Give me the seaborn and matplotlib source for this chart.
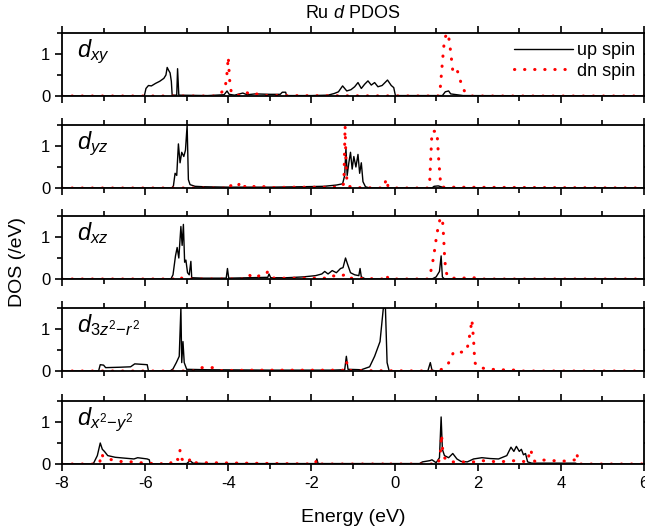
import matplotlib
matplotlib.use("Agg")
import matplotlib.pyplot as plt
import pandas as pd
import seaborn as sns
from matplotlib.ticker import MultipleLocator

# Ru d-orbital projected DOS, (energy eV, DOS /eV)
dxy_up = [(-8.0, 0), (-6.02, 0), (-5.98, 0.18), (-5.92, 0.25), (-5.85, 0.24), (-5.75, 0.3), (-5.65, 0.35),
          (-5.55, 0.42), (-5.5, 0.5), (-5.47, 0.68), (-5.44, 0.62), (-5.4, 0.55), (-5.37, 0.35), (-5.35, 0.02),
          (-5.24, 0.02), (-5.22, 0.65), (-5.19, 0.02), (-4.5, 0.01), (-4.1, 0.03), (-4.03, 0.12), (-3.98, 0.04),
          (-3.85, 0.02), (-3.65, 0.07), (-3.55, 0.03), (-3.35, 0.05), (-3.0, 0.04), (-2.75, 0.04), (-2.7, 0.09),
          (-2.62, 0.09), (-2.6, 0.01), (-2.0, 0.01), (-1.6, 0.02), (-1.45, 0.06), (-1.35, 0.1), (-1.25, 0.24),
          (-1.15, 0.12), (-1.05, 0.15), (-0.96, 0.22), (-0.88, 0.32), (-0.8, 0.18), (-0.72, 0.28), (-0.64, 0.36),
          (-0.56, 0.26), (-0.48, 0.32), (-0.4, 0.22), (-0.3, 0.25), (-0.17, 0.38), (-0.08, 0.25), (-0.02, 0.2),
          (0.02, 0.01), (1.15, 0.01), (1.22, 0.1), (1.3, 0.12), (1.35, 0.05), (1.5, 0.03), (1.65, 0.01), (6.0, 0)]
dxy_dn = [(-8, 0), (-4.25, 0), (-4.15, 0.1), (-4.08, 0.15), (-4.03, 0.55), (-4.0, 0.93), (-3.97, 0.4),
          (-3.93, 0.1), (-3.85, 0.02), (-3.6, 0.02), (-3.55, 0.08), (-3.45, 0.02), (-3.3, 0.05), (-3.1, 0.01),
          (1.05, 0), (1.1, 0.2), (1.15, 0.8), (1.2, 1.35), (1.26, 1.5), (1.3, 1.42), (1.35, 1.05), (1.4, 0.6),
          (1.45, 0.55), (1.5, 0.62), (1.55, 0.5), (1.6, 0.3), (1.68, 0.12), (1.78, 0.03), (1.85, 0), (6, 0)]

dyz_up = [(-8, 0), (-5.36, 0), (-5.32, 0.05), (-5.28, 0.35), (-5.24, 0.3), (-5.2, 1.05), (-5.16, 0.6),
          (-5.12, 0.85), (-5.07, 0.75), (-5.03, 0.9), (-4.99, 1.5), (-4.96, 0.2), (-4.92, 0.08), (-4.8, 0.04),
          (-4.6, 0.03), (-4.0, 0.02), (-3.0, 0.02), (-2.2, 0.03), (-1.7, 0.04), (-1.4, 0.07), (-1.25, 0.1),
          (-1.2, 0.3), (-1.17, 0.95), (-1.14, 0.3), (-1.1, 0.6), (-1.06, 0.85), (-1.02, 0.45), (-0.98, 0.75),
          (-0.93, 0.5), (-0.88, 0.8), (-0.84, 0.35), (-0.8, 0.6), (-0.76, 0.15), (-0.7, 0.03), (-0.6, 0),
          (0.9, 0), (0.95, 0.04), (1.05, 0.05), (1.15, 0.02), (1.2, 0), (6, 0)]
dyz_dn = [(-8, 0), (-4.1, 0), (-4.03, 0.1), (-3.95, 0.05), (-3.88, 0.08), (-3.78, 0.03), (-3.7, 0.15),
          (-3.62, 0.03), (-3.48, 0.08), (-3.35, 0.02), (-3.2, 0.04), (-3.0, 0.01), (-2.5, 0.02), (-1.3, 0.02),
          (-1.22, 0.1), (-1.19, 1.48), (-1.16, 0.3), (-1.12, 0.05), (-1.0, 0.01), (-0.26, 0.0), (-0.2, 0.22),
          (-0.16, 0.05), (-0.1, 0), (0.8, 0), (0.84, 0.05), (0.87, 0.7), (0.9, 1.35), (0.96, 1.35), (1.02, 1.35),
          (1.06, 0.7), (1.1, 0.2), (1.14, 0.02), (6, 0)]

dxz_up = [(-8, 0), (-5.38, 0), (-5.33, 0.1), (-5.27, 0.55), (-5.23, 0.75), (-5.19, 0.5), (-5.14, 1.25),
          (-5.11, 0.8), (-5.08, 1.3), (-5.05, 0.4), (-5.02, 0.45), (-4.98, 0.15), (-4.94, 0.1), (-4.9, 0.42),
          (-4.88, 0.03), (-4.6, 0.02), (-4.05, 0.02), (-4.02, 0.25), (-3.99, 0.02), (-3.5, 0.03), (-3.05, 0.04),
          (-3.02, 0.12), (-2.98, 0.03), (-2.6, 0.03), (-2.2, 0.05), (-1.9, 0.08), (-1.75, 0.12), (-1.68, 0.18),
          (-1.6, 0.12), (-1.5, 0.2), (-1.4, 0.15), (-1.3, 0.25), (-1.24, 0.27), (-1.18, 0.5), (-1.13, 0.35),
          (-1.06, 0.15), (-0.96, 0.1), (-0.86, 0.08), (-0.83, 0.25), (-0.8, 0.05), (-0.7, 0), (0.9, 0),
          (1.0, 0.05), (1.08, 0.18), (1.12, 0.55), (1.15, 0.05), (1.2, 0), (6, 0)]
dxz_dn = [(-8, 0), (-5.2, 0), (-5.15, 0.05), (-5.1, 0), (-3.6, 0), (-3.5, 0.1), (-3.4, 0.02), (-3.25, 0.08),
          (-3.1, 0.1), (-3.05, 0.18), (-2.98, 0.1), (-2.9, 0.02), (-1.6, 0.02), (-1.5, 0.08), (-1.35, 0.05),
          (-1.15, 0.12), (-1.05, 0.02), (-0.25, 0.0), (-0.2, 0.1), (-0.15, 0), (0.8, 0), (0.85, 0.1), (0.9, 0.3),
          (0.95, 0.6), (1.0, 0.95), (1.05, 1.25), (1.1, 1.45), (1.15, 1.45), (1.18, 1.0), (1.2, 0.6), (1.23, 0.2),
          (1.28, 0.05), (1.35, 0.02), (1.6, 0.02), (1.9, 0.03), (2.1, 0), (6, 0)]

d3z2_up = [(-8, 0), (-7.12, 0), (-7.08, 0.15), (-7.0, 0.14), (-6.95, 0.08), (-6.6, 0.09), (-6.35, 0.1),
           (-6.25, 0.17), (-6.1, 0.16), (-5.95, 0.15), (-5.92, 0.0), (-5.4, 0), (-5.33, 0.05), (-5.25, 0.2),
           (-5.18, 0.35), (-5.14, 1.5), (-5.12, 0.2), (-5.09, 0.7), (-5.06, 0.2), (-5.0, 0.04), (-4.5, 0.03),
           (-3.0, 0.02), (-1.5, 0.02), (-1.2, 0.03), (-1.16, 0.35), (-1.12, 0.04), (-0.8, 0.03), (-0.6, 0.1),
           (-0.48, 0.35), (-0.35, 0.7), (-0.27, 1.5), (-0.22, 1.5), (-0.18, 0.2), (-0.13, 0), (0.8, 0),
           (0.86, 0.2), (0.9, 0.02), (1.0, 0), (6, 0)]
d3z2_dn = [(-8, 0), (-4.8, 0), (-4.7, 0.08), (-4.5, 0.08), (-4.35, 0.08), (-4.2, 0.01), (-3.5, 0.02),
           (-1.2, 0.02), (-1.15, 0.2), (-1.1, 0.01), (1.05, 0), (1.15, 0.05), (1.28, 0.15), (1.35, 0.3),
           (1.42, 0.45), (1.5, 0.48), (1.6, 0.45), (1.68, 0.45), (1.74, 0.5), (1.79, 0.75), (1.83, 1.0),
           (1.86, 1.22), (1.9, 0.75), (1.93, 0.2), (2.0, 0.1), (2.2, 0.05), (2.5, 0.03), (3.0, 0.02), (3.1, 0),
           (6, 0)]

dx2_up = [(-8, 0), (-7.25, 0), (-7.15, 0.2), (-7.08, 0.5), (-7.03, 0.35), (-6.98, 0.3), (-6.9, 0.2),
          (-6.72, 0.16), (-6.5, 0.14), (-6.27, 0.12), (-6.18, 0.15), (-5.95, 0.12), (-5.9, 0.1), (-5.88, 0),
          (-5.0, 0.01), (-4.92, 0.08), (-4.85, 0.02), (-4.5, 0.01), (-1.9, 0.01), (-1.87, 0.12), (-1.84, 0.01),
          (0.6, 0.01), (0.67, 0.05), (0.85, 0.08), (0.9, 0.1), (1.0, 0.03), (1.08, 0.15), (1.12, 1.12),
          (1.15, 0.35), (1.2, 0.2), (1.3, 0.15), (1.4, 0.25), (1.5, 0.12), (1.6, 0.06), (1.75, 0.05), (1.9, 0.12),
          (2.1, 0.15), (2.3, 0.13), (2.5, 0.12), (2.7, 0.2), (2.8, 0.4), (2.87, 0.3), (2.93, 0.42), (3.0, 0.3),
          (3.05, 0.35), (3.1, 0.22), (3.15, 0.25), (3.2, 0.05), (3.3, 0.02), (4.35, 0.02), (4.4, 0), (6, 0)]
dx2_dn = [(-8, 0), (-7.1, 0), (-7.05, 0.25), (-7.0, 0.15), (-6.8, 0.1), (-6.6, 0.06), (-6.3, 0.05), (-6.0, 0.02),
          (-5.4, 0), (-5.3, 0.15), (-5.2, 0.1), (-5.16, 0.33), (-5.12, 0.12), (-5.0, 0.02), (-4.9, 0.13),
          (-4.85, 0.03), (-4.4, 0.03), (-1.92, 0), (-1.87, 0.1), (-1.82, 0), (-0.25, 0), (-0.2, 0.05), (-0.15, 0),
          (1.05, 0), (1.1, 0.25), (1.13, 0.7), (1.16, 0.3), (1.2, 0.15), (1.3, 0.05), (2.0, 0.05), (2.1, 0.08),
          (2.5, 0.05), (2.9, 0.08), (3.2, 0.05), (3.25, 0.3), (3.28, 0.35), (3.32, 0.1), (3.4, 0.05), (3.5, 0.1),
          (3.8, 0.08), (4.1, 0.07), (4.35, 0.1), (4.38, 0.25), (4.42, 0.1), (4.45, 0), (6, 0)]

panel_labels = [r"$d_{xy}$", r"$d_{yz}$", r"$d_{xz}$", r"$d_{3z^2\!-\!r^2}$", r"$d_{x^2\!-\!y^2}$"]
panels = [(dxy_up, dxy_dn), (dyz_up, dyz_dn), (dxz_up, dxz_dn), (d3z2_up, d3z2_dn), (dx2_up, dx2_dn)]

sns.set_style("ticks")
plt.rcParams["font.family"] = ["Liberation Sans", "DejaVu Sans"]
plt.rcParams["mathtext.fontset"] = "custom"
plt.rcParams["mathtext.it"] = "Liberation Sans:italic"
plt.rcParams["mathtext.rm"] = "Liberation Sans"
plt.rcParams["axes.unicode_minus"] = False
for key in ["text.color", "axes.labelcolor", "xtick.color", "ytick.color", "axes.edgecolor"]:
    plt.rcParams[key] = "black"

fig = plt.figure(figsize=(6.45, 5.31), dpi=100)
W, H = 645, 531
tops = [33, 125, 216, 308, 401]
ph = 63
dots = (0, (0.1, 3.2))

for i, ((up, dn), lab) in enumerate(zip(panels, panel_labels)):
    top = tops[i]
    ax = fig.add_axes([62 / W, 1 - (top + ph) / H, (644 - 62) / W, ph / H])
    df_up = pd.DataFrame(up, columns=["E", "dos"])
    df_dn = pd.DataFrame(dn, columns=["E", "dos"])
    sns.lineplot(data=df_up, x="E", y="dos", ax=ax, color="black", lw=1.0, estimator=None,
                 label="up spin" if i == 0 else None)
    sns.lineplot(data=df_dn, x="E", y="dos", ax=ax, color="red", lw=2.2, estimator=None,
                 label="dn spin" if i == 0 else None)
    ax.lines[-1].set_linestyle(dots)
    ax.lines[-1].set_dash_capstyle("round")
    ax.set_xlim(-8, 6)
    ax.set_ylim(0, 1.5)
    ax.xaxis.set_major_locator(MultipleLocator(2))
    ax.xaxis.set_minor_locator(MultipleLocator(1))
    ax.yaxis.set_major_locator(MultipleLocator(1))
    ax.yaxis.set_minor_locator(MultipleLocator(0.5))
    ax.tick_params(which="both", top=True, right=True, width=1.2, labelsize=12)
    ax.tick_params(which="major", length=5)
    ax.tick_params(which="minor", length=3.5)
    for s in ax.spines.values():
        s.set_linewidth(1.3)
    ax.set_xlabel("")
    ax.set_ylabel("")
    if i < 4:
        ax.set_xticklabels([])
    ax.text(0.025, 0.93, lab, transform=ax.transAxes, fontsize=17, va="top", ha="left")
    if i == 0:
        leg = ax.legend(loc="upper right", frameon=False, fontsize=13, handlelength=3.3,
                        borderaxespad=0.1, labelspacing=0.2, handletextpad=0.2)
        leg.get_lines()[1].set_linestyle(dots)
        leg.get_lines()[1].set_dash_capstyle("round")
    elif ax.get_legend() is not None:
        ax.get_legend().remove()

fig.text(353 / W, 1 - 14 / H, r"Ru $d$ PDOS", ha="center", va="center", fontsize=13)
fig.text(18 / W, 1 - 262 / H, "DOS (/eV)", rotation=90, ha="center", va="center", fontsize=14)
fig.text(353 / W, 1 - 517 / H, "Energy (eV)", ha="center", va="center", fontsize=14)

fig.savefig("out.png", dpi=100)
